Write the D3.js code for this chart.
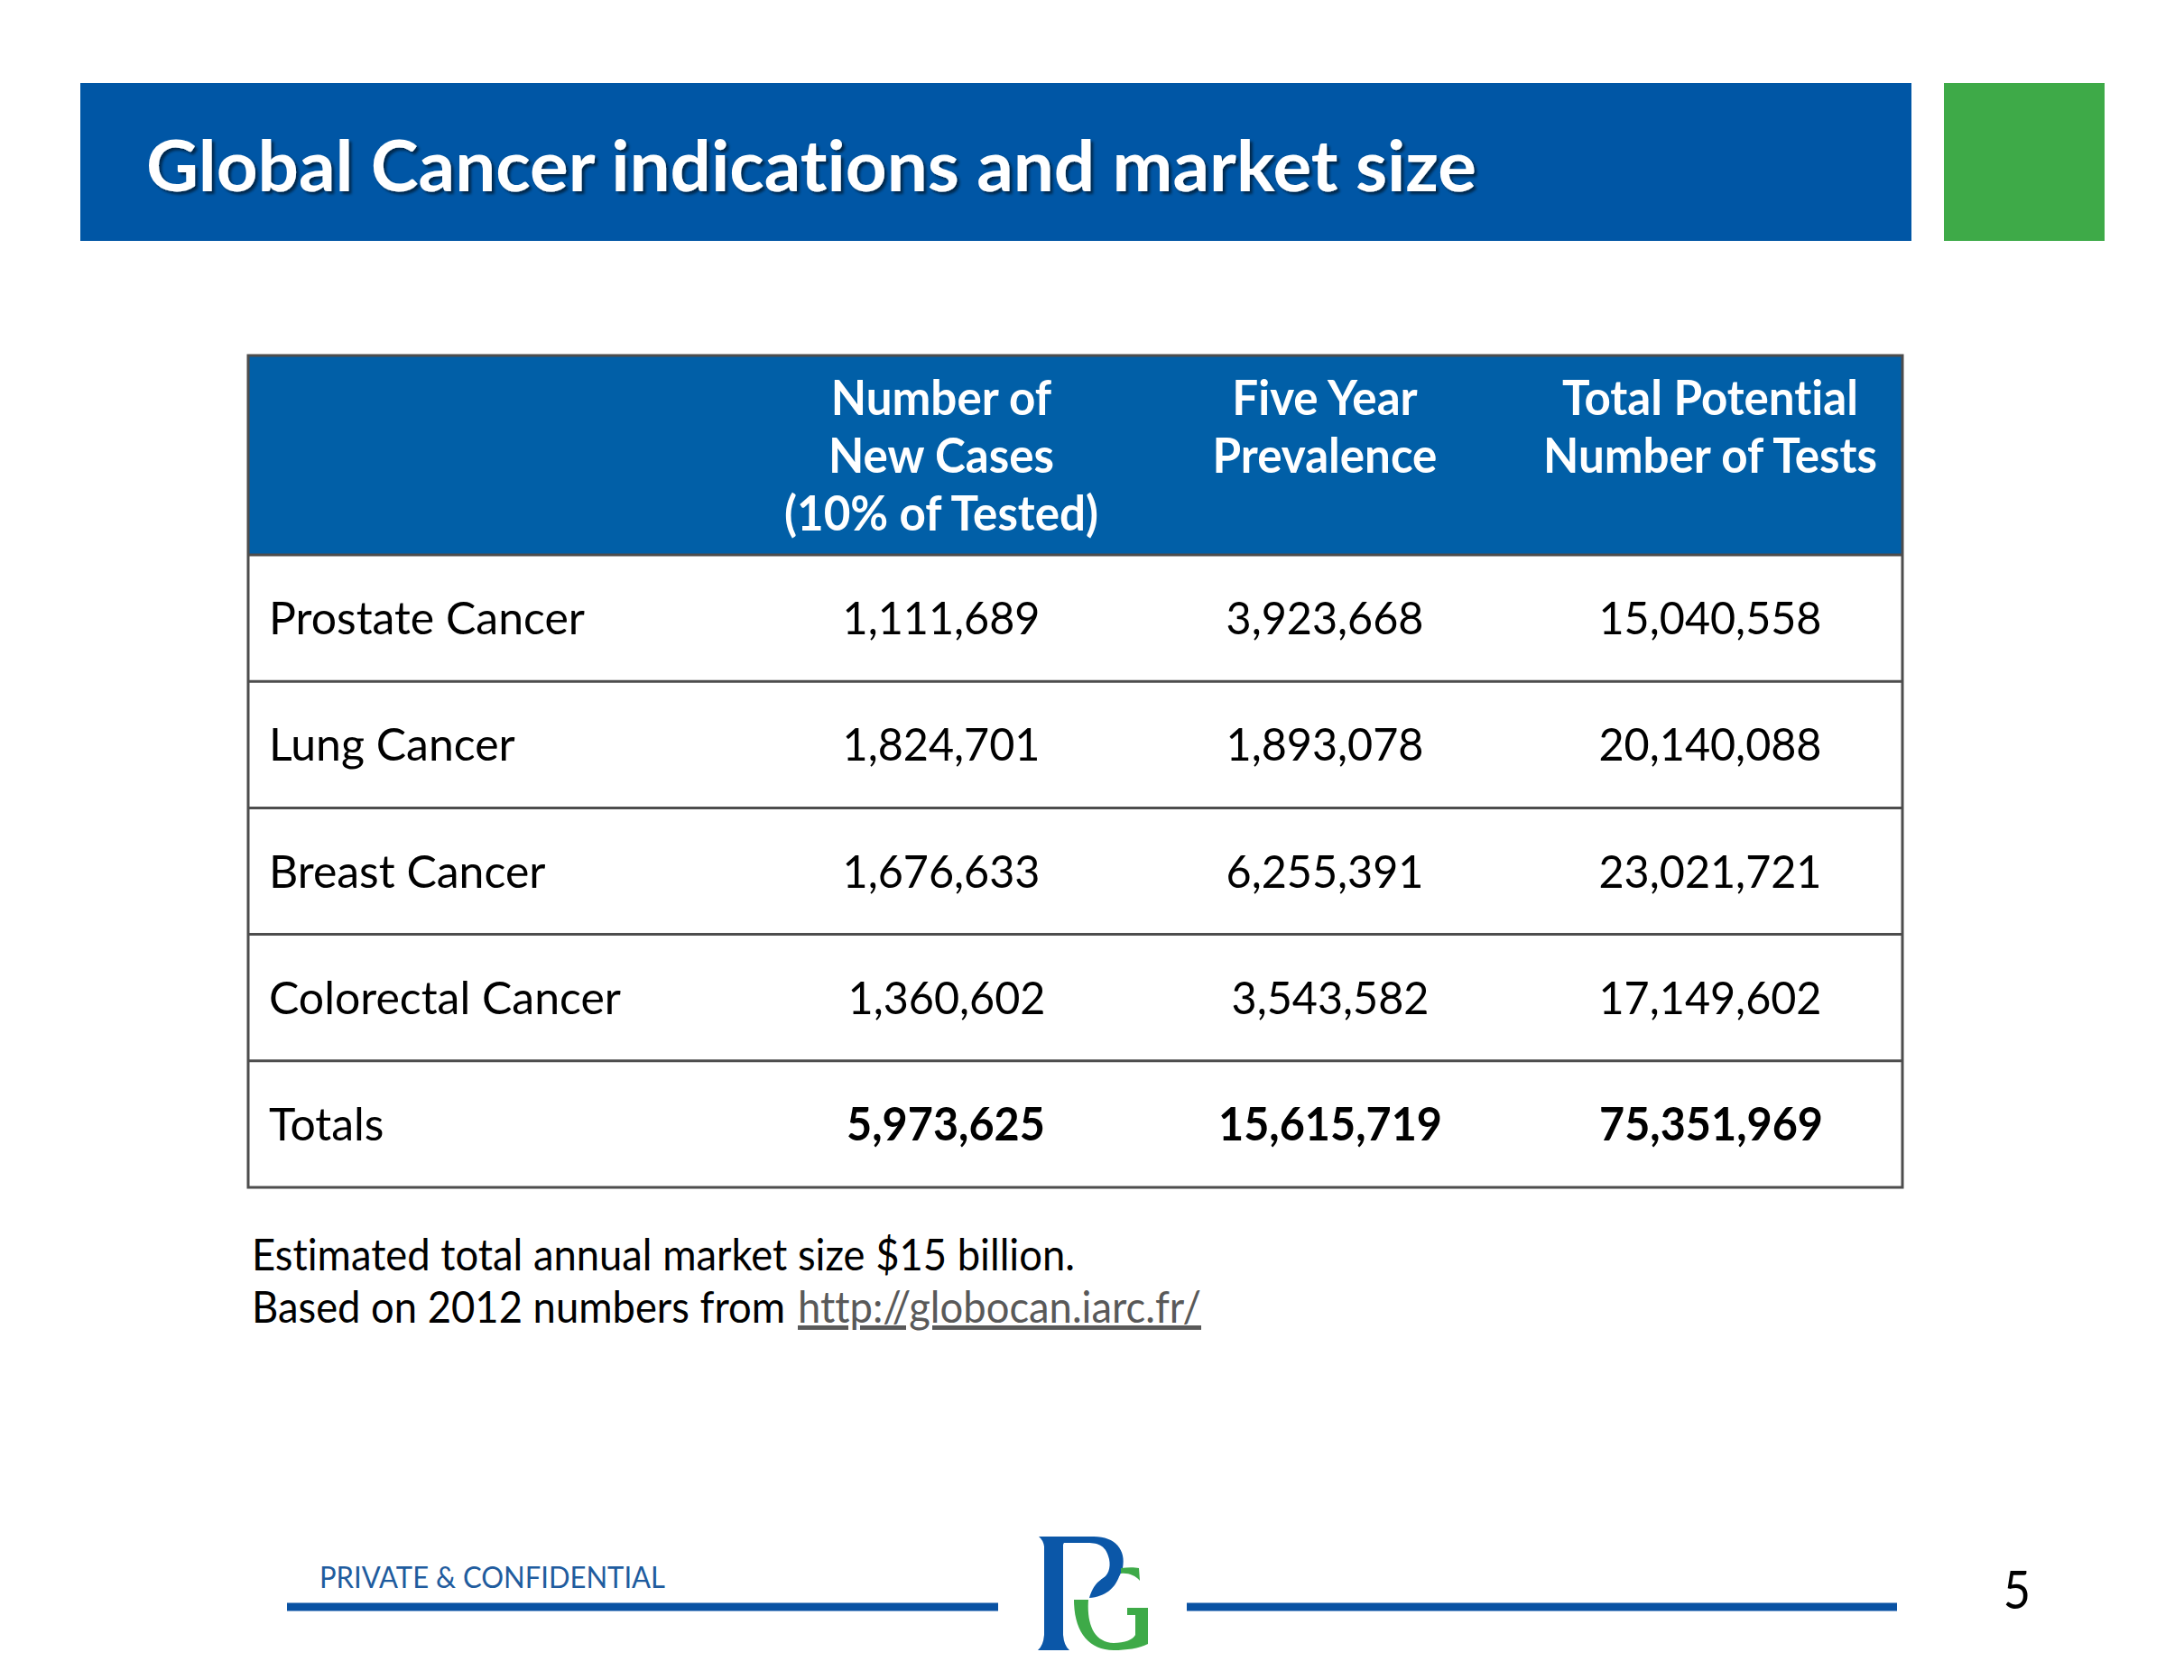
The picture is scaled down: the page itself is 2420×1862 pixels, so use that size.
<!DOCTYPE html>
<html>
<head>
<meta charset="utf-8">
<script src="https://cdn.jsdelivr.net/npm/d3@7"></script>
<style>
  html, body { margin: 0; padding: 0; background: #ffffff; }
  svg { display: block; }
  text { font-variant-ligatures: none; font-feature-settings: "liga" 0, "clig" 0; }
</style>
</head>
<body>
<script>
// ---------- DATA ----------
const titleText = "Global Cancer indications and market size";
const rowLabels = ["Prostate Cancer", "Lung Cancer", "Breast Cancer", "Colorectal Cancer", "Totals"];
const newCases = [1111689, 1824701, 1676633, 1360602, 5973625];
const prevalence = [3923668, 1893078, 6255391, 3543582, 15615719];
const totalTests = [15040558, 20140088, 23021721, 17149602, 75351969];
const columnHeaders = [
  ["Number of", "New Cases", "(10% of Tested)"],
  ["Five Year", "Prevalence"],
  ["Total Potential", "Number of Tests"]
];
const footnotes = ["Estimated total annual market size $15 billion.", "Based on 2012 numbers from"];
const linkText = "http://globocan.iarc.fr/";
const footerLabel = "PRIVATE & CONFIDENTIAL";
const pageNumber = "5";

// ---------- SETUP ----------
const W = 2420, H = 1862;
const FONT = "Lato, 'Open Sans', sans-serif";
const svg = d3.select("body").append("svg").attr("width", W).attr("height", H);
svg.append("rect").attr("width", W).attr("height", H).attr("fill", "#ffffff");

const defs = svg.append("defs");
defs.append("filter").attr("id", "shadow").attr("x", "-5%").attr("y", "-20%").attr("width", "110%").attr("height", "150%")
  .append("feDropShadow").attr("dx", 3).attr("dy", 3).attr("stdDeviation", 1.5)
  .attr("flood-color", "#000").attr("flood-opacity", 0.55);

// helper: condense text to Calibri-like proportions
function condense(sel, ratio) {
  sel.each(function() {
    const w = this.getComputedTextLength();
    d3.select(this).attr("textLength", w * ratio).attr("lengthAdjust", "spacingAndGlyphs");
  });
}
function ratioFor(str, size, weight, target) {
  const t = svg.append("text").attr("font-family", FONT).attr("font-size", size)
    .attr("font-weight", weight).text(str);
  const w = t.node().getComputedTextLength();
  t.remove();
  return target / w;
}

// ---------- TITLE BAND ----------
svg.append("rect").attr("x", 89).attr("y", 92).attr("width", 2029).attr("height", 175).attr("fill", "#0056a5");
svg.append("rect").attr("x", 2154).attr("y", 92).attr("width", 178).attr("height", 175).attr("fill", "#3eaa48");

const titleR = ratioFor(titleText, 79, 700, 1474);
svg.append("text").attr("x", 162).attr("y", 212)
  .attr("font-family", FONT).attr("font-size", 79).attr("font-weight", 700)
  .attr("fill", "#ffffff").attr("filter", "url(#shadow)")
  .text(titleText).call(condense, titleR);

// ---------- TABLE ----------
const tLeft = 275, tRight = 2108, tTop = 394, hBottom = 615, tBottom = 1316;
const colCenters = [1043, 1468, 1895];

const y = d3.scaleBand().domain(rowLabels).range([hBottom, tBottom]).padding(0);
const x = d3.scaleOrdinal().domain([0, 1, 2]).range(colCenters);
const fmt = d3.format(",");

// header background
svg.append("rect").attr("x", tLeft).attr("y", tTop).attr("width", tRight - tLeft).attr("height", hBottom - tTop)
  .attr("fill", "#015fa7");

// header text
const hSize = 53;
const hR = ratioFor("Number of Tests", hSize, 700, 370);
const headerG = svg.append("g");
columnHeaders.forEach((lines, ci) => {
  headerG.selectAll(null).data(lines).join("text")
    .attr("x", x(ci)).attr("y", (d, i) => 460 + i * 64)
    .attr("text-anchor", "middle")
    .attr("font-family", FONT).attr("font-size", hSize).attr("font-weight", 700)
    .attr("fill", "#ffffff").text(d => d)
    .call(condense, hR);
});

// body rows
const bSize = 51;
const bR = ratioFor("Prostate Cancer", bSize, 400, 350);
const nR = ratioFor("15,040,558", bSize, 400, 247);
const nbR = ratioFor("75,351,969", bSize, 700, 248);

// small centring offsets seen in the source (leading spaces in the cells)
const cellShift = [[0, 0, 0], [0, 0, 0], [0, 0, 0], [6, 6, 0], [5, 6, 1]];

const series = [newCases, prevalence, totalTests];
const rows = svg.append("g").selectAll("g").data(rowLabels).join("g");
rows.append("text")
  .attr("x", 298).attr("y", d => y(d) + y.bandwidth() / 2 + 18)
  .attr("font-family", FONT).attr("font-size", bSize).attr("fill", "#000")
  .text(d => d).call(condense, bR);

series.forEach((vals, ci) => {
  svg.append("g").selectAll("text").data(vals).join("text")
    .attr("x", (d, i) => x(ci) + cellShift[i][ci])
    .attr("y", (d, i) => y(rowLabels[i]) + y.bandwidth() / 2 + 18)
    .attr("text-anchor", "middle")
    .attr("font-family", FONT).attr("font-size", bSize)
    .attr("font-weight", (d, i) => i === rowLabels.length - 1 ? 700 : 400)
    .attr("fill", "#000")
    .text(d => fmt(d))
    .each(function(d, i) {
      const r = i === rowLabels.length - 1 ? nbR : nR;
      d3.select(this).call(condense, r);
    });
});

// row lines
const lineColor = "#4d4d4d";
svg.append("g").selectAll("line").data(rowLabels.slice(1)).join("line")
  .attr("x1", tLeft).attr("x2", tRight)
  .attr("y1", d => y(d)).attr("y2", d => y(d))
  .attr("stroke", lineColor).attr("stroke-width", 3);
svg.append("line").attr("x1", tLeft).attr("x2", tRight).attr("y1", hBottom).attr("y2", hBottom)
  .attr("stroke", lineColor).attr("stroke-width", 3);
svg.append("rect").attr("x", tLeft).attr("y", tTop).attr("width", tRight - tLeft).attr("height", tBottom - tTop)
  .attr("fill", "none").attr("stroke", lineColor).attr("stroke-width", 3);

// ---------- FOOTNOTES ----------
const fSize = 49;
const fR = ratioFor(footnotes[0], fSize, 400, 912);
svg.append("text").attr("x", 279).attr("y", 1408)
  .attr("font-family", FONT).attr("font-size", fSize).attr("fill", "#000")
  .text(footnotes[0]).call(condense, fR);
const f2 = svg.append("text").attr("x", 279).attr("y", 1466)
  .attr("font-family", FONT).attr("font-size", fSize).attr("fill", "#000")
  .text(footnotes[1]).call(condense, fR);
const f2w = +f2.attr("textLength");
svg.append("text").attr("x", 279 + f2w + 14).attr("y", 1466)
  .attr("font-family", FONT).attr("font-size", fSize).attr("fill", "#595959")
  .attr("text-decoration", "underline")
  .text(linkText).call(condense, fR);

// ---------- FOOTER ----------
svg.append("line").attr("x1", 318).attr("x2", 1106).attr("y1", 1781).attr("y2", 1781)
  .attr("stroke", "#0a52a3").attr("stroke-width", 9);
svg.append("line").attr("x1", 1315).attr("x2", 2102).attr("y1", 1781).attr("y2", 1781)
  .attr("stroke", "#0a52a3").attr("stroke-width", 9);

const cR = ratioFor(footerLabel, 32, 400, 383);
svg.append("text").attr("x", 354).attr("y", 1760)
  .attr("font-family", FONT).attr("font-size", 32).attr("fill", "#1f5c9e")
  .text(footerLabel).call(condense, cR);

svg.append("text").attr("x", 2235).attr("y", 1783).attr("text-anchor", "middle")
  .attr("font-family", FONT).attr("font-size", 58).attr("fill", "#000")
  .text(pageNumber).call(condense, 0.9);

// logo
const logo = svg.append("g");
// P stem with serifs
logo.append("path").attr("fill", "#0b57a8").attr("d",
  "M1151,1703 L1182,1703 L1178,1712 L1178,1812 Q1179,1824 1185,1829 L1150,1829 Q1156,1824 1157,1812 L1157,1714 Q1156,1707 1151,1703 Z");
// P top bar + bowl
logo.append("path").attr("fill", "#0b57a8").attr("d",
  "M1175,1703 L1212,1703 C1236,1703 1248,1718 1244,1738 C1241,1750 1232,1756 1222,1758 " +
  "L1220,1751 C1228,1746 1231,1738 1229,1728 C1226,1714 1218,1710 1205,1710 L1175,1710 Z");
// blue leaf
logo.append("path").attr("fill", "#0b57a8").attr("d",
  "M1207,1771 C1212,1752 1226,1744 1241,1744 C1237,1760 1224,1770 1207,1771 Z");
// G green upper piece
logo.append("path").attr("fill", "#3eaa48").attr("d",
  "M1242,1738 C1250,1737 1257,1737 1262,1738 L1263,1752 C1258,1746 1250,1743 1242,1744 Z");
// G body
logo.append("path").attr("fill", "#3eaa48").attr("d",
  "M1190,1773 L1206,1773 C1204,1800 1212,1820 1234,1821 C1246,1821 1256,1817 1258,1812 L1258,1790 " +
  "L1249,1790 L1249,1782 L1272,1782 L1272,1822 C1262,1827 1248,1829 1234,1829 C1206,1829 1190,1808 1190,1773 Z");
</script>
</body>
</html>
